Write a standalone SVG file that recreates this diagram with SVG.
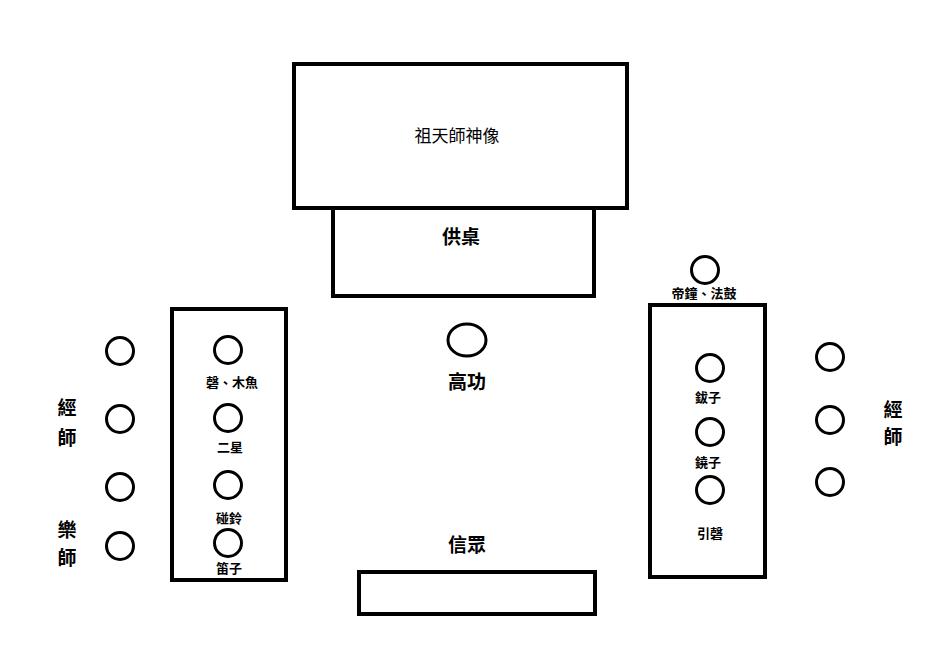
<svg xmlns="http://www.w3.org/2000/svg" width="935" height="671" viewBox="0 0 935 671">
<style>
.box{fill:none;stroke:#000;stroke-width:4}
.c{fill:#fff;stroke:#000;stroke-width:3}
text{font-family:"Liberation Serif","Noto Sans CJK TC",serif;fill:#000;text-anchor:middle;dominant-baseline:central;font-weight:bold}
.s{font-size:13px}
.m{font-size:19px}
.t{font-size:17px;font-weight:normal}
</style>
<rect width="935" height="671" fill="#fff"/>
<g id="statue"><rect class="box" x="294" y="64" width="333" height="144"/><text class="t" x="457" y="136">祖天師神像</text></g>
<g id="altar"><rect class="box" x="333" y="208" width="261" height="88" stroke-width="5"/><text class="m" x="461" y="237">供桌</text></g>
<g id="left-box"><rect class="box" x="172" y="309" width="114" height="271"/>
<circle class="c" cx="228" cy="350" r="13.5"/><text class="s" x="232" y="382">磬、木魚</text>
<circle class="c" cx="228" cy="418" r="13.5"/><text class="s" x="230" y="447">二星</text>
<circle class="c" cx="228" cy="485" r="13.5"/><text class="s" x="229" y="518">碰鈴</text>
<circle class="c" cx="228" cy="543" r="13.5"/><text class="s" x="229" y="568">笛子</text></g>
<g id="right-box"><rect class="box" x="650" y="305" width="115" height="272"/>
<circle class="c" cx="710" cy="368" r="13.5"/><text class="s" x="708" y="397">鈸子</text>
<circle class="c" cx="710" cy="432" r="13.5"/><text class="s" x="708" y="462">鐃子</text>
<circle class="c" cx="710" cy="490" r="13.5"/><text class="s" x="710" y="533">引磬</text></g>
<g id="bell"><circle class="c" cx="705" cy="270" r="13.5"/><text class="s" x="704" y="293">帝鐘、法鼓</text></g>
<g id="left-musicians">
<circle class="c" cx="120" cy="351" r="13.5"/><circle class="c" cx="120" cy="419" r="13.5"/>
<circle class="c" cx="120" cy="487" r="13.5"/><circle class="c" cx="120" cy="546" r="13.5"/>
<text class="m" x="67" y="408">經</text><text class="m" x="67" y="438">師</text>
<text class="m" x="67" y="530">樂</text><text class="m" x="67" y="558">師</text></g>
<g id="right-musicians">
<circle class="c" cx="830" cy="357" r="13.5"/><circle class="c" cx="830" cy="420" r="13.5"/><circle class="c" cx="830" cy="482" r="13.5"/>
<text class="m" x="893" y="410">經</text><text class="m" x="893" y="437">師</text></g>
<g id="gaogong"><ellipse class="c" cx="467" cy="340" rx="19" ry="16"/><text class="m" x="467" y="382">高功</text></g>
<g id="believers"><text class="m" x="467" y="545">信眾</text><rect class="box" x="359" y="572" width="236" height="42"/></g>
</svg>
